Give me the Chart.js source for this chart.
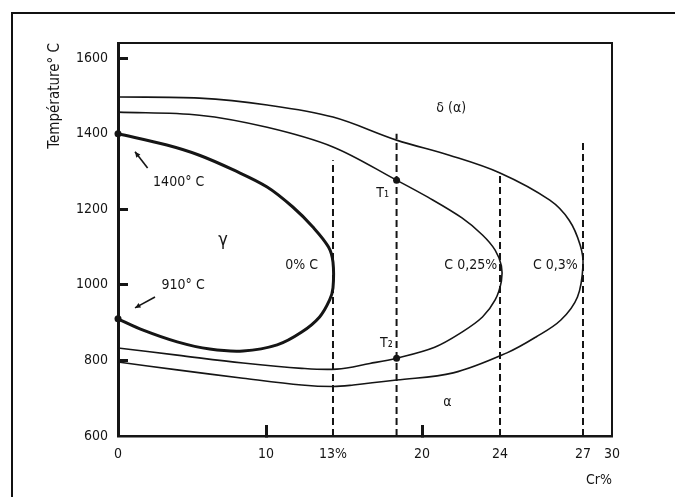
<!DOCTYPE html>
<html>
<head>
<meta charset="utf-8">
<script src="https://cdn.jsdelivr.net/npm/chart.js@4.4.1/dist/chart.umd.min.js"></script>
<style>
  html, body { margin: 0; padding: 0; background: #fff; }
  #wrap { position: relative; width: 675px; height: 497px; }
  #frame { position: absolute; left: 11px; top: 12px; right: 0; bottom: 0;
           border-left: 2px solid #111; border-top: 2px solid #111; }
  #chart { position: absolute; left: 0; top: 0; }
</style>
</head>
<body>
<div id="wrap">
  <div id="frame"></div>
  <canvas id="chart"></canvas>
</div>
<script>
// Cr % (x) and temperature in °C (y)
const loop0Cr = [0, 3.3, 5.5, 7.8, 10.05, 11.2, 12.1, 12.8, 13, 13, 12.85, 12.4, 11.6, 10.5, 8.45, 6.2, 4.0, 1.7, 0];
const loop0T  = [1400, 1370, 1343, 1304, 1259, 1206, 1153, 1100, 1060, 992, 960, 915, 875, 841, 825, 830, 849, 880, 910];

const loop025Cr = [0, 5.5, 10.05, 13, 18, 20.3, 22.05, 23.1, 23.75, 24.05, 24.05, 23.75, 23.1, 22.05, 20.65, 18, 15.9, 13.3, 11.6, 8.45, 4.0, 0];
const loop025T  = [1457, 1449, 1417, 1365, 1277, 1232, 1177, 1132, 1092, 1050, 1010, 960, 915, 875, 835, 806, 792, 777, 779, 793, 814, 833];

const loop03Cr = [0, 5.5, 10.05, 13, 18, 21.4, 24, 25.8, 26.5, 26.9, 27, 26.8, 26.2, 25.3, 24.25, 21.6, 18, 14.6, 13, 11.6, 8.45, 4.0, 0];
const loop03T  = [1497, 1494, 1476, 1444, 1383, 1343, 1296, 1224, 1171, 1105, 1052, 968, 907, 862, 820, 767, 748, 735, 731, 735, 753, 775, 796];

// dashed verticals: Cr value and the temperature where the dash stops
const dashCr  = [13, 18, 24, 27];
const dashTop = [1330, 1400, 1296, 1383];

// marked points: 1400 °C, 910 °C, T1, T2
const dotCr = [0, 0, 18, 18];
const dotT  = [1400, 910, 1277, 806];

const xTicks = [0, 10, 13, 20, 24, 27, 30];
const xMarks = [10, 20];
const yTicks = [600, 800, 1000, 1200, 1400, 1600];
const yMarks = [800, 1000, 1200, 1600];

const notes = [
  { text: 'δ (α)',    cr: 21.5, t: 1468 },
  { text: 'γ',        cr: 7.1,  t: 1118 },
  { text: '0% C',     cr: 11.6, t: 1052 },
  { text: '1400° C',  cr: 4.1,  t: 1272 },
  { text: '910° C',   cr: 4.4,  t: 999 },
  { text: 'T₁',       cr: 16.9, t: 1243 },
  { text: 'T₂',       cr: 17.2, t: 846 },
  { text: 'C 0,25%',  cr: 22.5, t: 1052 },
  { text: 'C 0,3%',   cr: 26.0, t: 1052 },
  { text: 'α',        cr: 21.3, t: 690 }
];
const arrows = [
  { fromCr: 2.0, fromT: 1309, toCr: 1.15, toT: 1352 },
  { fromCr: 2.5, fromT: 968,  toCr: 1.15, toT: 939 }
];

const FONT = '"DejaVu Sans Condensed", "Liberation Sans", sans-serif';
const INK = '#151515';

// the Cr axis of the original drawing is not to scale: piecewise between labelled ticks
const crBreaks = [0, 10, 13, 20, 24, 27, 30];
const crFrac   = [0, 0.2996, 0.4352, 0.6154, 0.7733, 0.9413, 1];

function interp(v, xs, ys) {
  if (v <= xs[0]) return ys[0] + (v - xs[0]) * (ys[1] - ys[0]) / (xs[1] - xs[0]);
  for (let i = 1; i < xs.length; i++) {
    if (v <= xs[i] || i === xs.length - 1) {
      return ys[i - 1] + (v - xs[i - 1]) * (ys[i] - ys[i - 1]) / (xs[i] - xs[i - 1]);
    }
  }
}

class BrokenScale extends Chart.LinearScale {
  getPixelForValue(value) {
    return this.getPixelForDecimal(interp(value, crBreaks, crFrac));
  }
  getValueForPixel(pixel) {
    return interp(this.getDecimalForPixel(pixel), crFrac, crBreaks);
  }
}
BrokenScale.id = 'broken';
BrokenScale.defaults = Chart.LinearScale.defaults;
Chart.register(BrokenScale);

const pts = (xs, ys) => xs.map((x, i) => ({ x: x, y: ys[i] }));

const datasets = [
  { data: pts(loop0Cr, loop0T), borderWidth: 3, tension: 0.35 },
  { data: pts(loop025Cr, loop025T), borderWidth: 1.6, tension: 0.35 },
  { data: pts(loop03Cr, loop03T), borderWidth: 1.6, tension: 0.35 }
].map(d => Object.assign(d, { borderColor: INK, pointRadius: 0, fill: false, clip: false }));

dashCr.forEach((c, i) => {
  datasets.push({
    data: [{ x: c, y: 600 }, { x: c, y: dashTop[i] }],
    borderColor: INK, borderWidth: 2, borderDash: [7, 4], pointRadius: 0, fill: false
  });
});

datasets.push({
  data: pts(dotCr, dotT), showLine: false, pointRadius: 3.5,
  pointBackgroundColor: INK, pointBorderWidth: 0, clip: false
});

// top and right sides of the plot frame
const framePlugin = {
  id: 'frame',
  afterDraw(chart) {
    const { ctx, chartArea: a } = chart;
    ctx.save();
    ctx.strokeStyle = INK;
    ctx.lineWidth = 2;
    ctx.beginPath();
    ctx.moveTo(a.left, a.top);
    ctx.lineTo(a.right, a.top);
    ctx.lineTo(a.right, a.bottom);
    ctx.stroke();
    ctx.restore();
  }
};

// region labels and the two pointer arrows
const notesPlugin = {
  id: 'notes',
  afterDatasetsDraw(chart) {
    const { ctx, scales: { x, y } } = chart;
    ctx.save();
    ctx.fillStyle = INK;
    ctx.textAlign = 'center';
    ctx.textBaseline = 'middle';
    notes.forEach(n => {
      ctx.font = (n.text === 'γ' ? '18px ' : '14px ') + FONT;
      ctx.fillText(n.text, x.getPixelForValue(n.cr), y.getPixelForValue(n.t));
    });
    ctx.strokeStyle = INK;
    ctx.lineWidth = 1.6;
    arrows.forEach(a => {
      const x1 = x.getPixelForValue(a.fromCr), y1 = y.getPixelForValue(a.fromT);
      const x2 = x.getPixelForValue(a.toCr), y2 = y.getPixelForValue(a.toT);
      const ang = Math.atan2(y2 - y1, x2 - x1);
      ctx.beginPath();
      ctx.moveTo(x1, y1);
      ctx.lineTo(x2, y2);
      ctx.stroke();
      ctx.beginPath();
      ctx.moveTo(x2, y2);
      ctx.lineTo(x2 - 6 * Math.cos(ang - 0.45), y2 - 6 * Math.sin(ang - 0.45));
      ctx.lineTo(x2 - 6 * Math.cos(ang + 0.45), y2 - 6 * Math.sin(ang + 0.45));
      ctx.closePath();
      ctx.fill();
    });
    ctx.restore();
  }
};

new Chart(document.getElementById('chart'), {
  type: 'line',
  data: { datasets: datasets },
  plugins: [framePlugin, notesPlugin],
  options: {
    responsive: true,
    maintainAspectRatio: false,
    animation: false,
    layout: { padding: { left: 46, right: 63, top: 43, bottom: 0 } },
    plugins: { legend: { display: false }, tooltip: { enabled: false } },
    scales: {
      x: {
        type: 'broken',
        min: 0,
        max: 30,
        afterBuildTicks: s => { s.ticks = xTicks.map(v => ({ value: v })); },
        afterFit: s => { s.height = 61; },
        ticks: {
          autoSkip: false, maxRotation: 0, padding: 21, color: INK,
          font: { family: FONT, size: 14 },
          callback: v => (v === 13 ? '13%' : String(v))
        },
        grid: {
          drawOnChartArea: false, tickLength: -11, tickWidth: 3,
          tickColor: c => (c.tick && xMarks.includes(c.tick.value) ? INK : 'rgba(0,0,0,0)')
        },
        border: { color: INK, width: 2.5 },
        title: {
          display: true, text: 'Cr%', align: 'end', color: INK,
          font: { family: FONT, size: 14 }, padding: { top: 4, bottom: 8 }
        }
      },
      y: {
        type: 'linear',
        min: 600,
        max: 1640,
        afterBuildTicks: s => { s.ticks = yTicks.map(v => ({ value: v })); },
        afterFit: s => { s.width = 72; },
        ticks: {
          padding: 20, color: INK,
          font: { family: FONT, size: 14 },
          callback: v => String(v)
        },
        grid: {
          drawOnChartArea: false, tickLength: -10, tickWidth: 3,
          tickColor: c => (c.tick && yMarks.includes(c.tick.value) ? INK : 'rgba(0,0,0,0)')
        },
        border: { color: INK, width: 3 },
        title: {
          display: true, text: 'Température° C', align: 'end', color: INK,
          font: { family: FONT, size: 15 }, padding: { top: 0, bottom: 13 }
        }
      }
    }
  }
});
</script>
</body>
</html>
